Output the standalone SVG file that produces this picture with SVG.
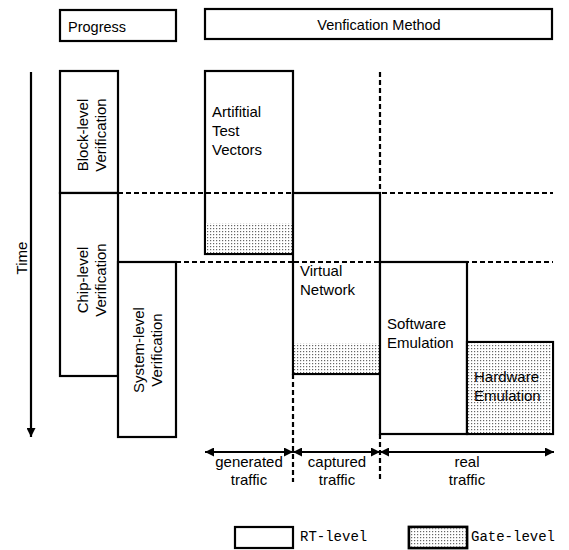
<svg xmlns="http://www.w3.org/2000/svg" width="569" height="550" viewBox="0 0 569 550">
<defs>
<pattern id="dots" width="3" height="3" patternUnits="userSpaceOnUse">
<rect width="3" height="3" fill="#ffffff"/>
<rect x="0" y="0" width="1.2" height="1.2" fill="#666666"/>
</pattern>
<marker id="ah" viewBox="0 0 10 10" refX="10" refY="5" markerWidth="10" markerHeight="9" markerUnits="userSpaceOnUse" orient="auto-start-reverse">
<path d="M0,0 L10,5 L0,10 Z" fill="#000"/>
</marker>
</defs>
<style>
.box{fill:#fff;stroke:#000;stroke-width:2.2}
.shade{fill:url(#dots);stroke:none}
.dash{fill:none;stroke:#000;stroke-width:2.2;stroke-dasharray:5 3}
.line{fill:none;stroke:#000;stroke-width:2.2}
.t{font-family:"Liberation Sans",Arial,sans-serif;font-size:15px;fill:#000}
.h{font-family:"Liberation Sans",Arial,sans-serif;font-size:14.5px;fill:#000}
.m{font-family:"Liberation Mono","Courier New",monospace;font-size:14px;fill:#000}
</style>
<g id="connectors">
<line class="dash" x1="118" y1="193" x2="553" y2="193"/>
<line class="dash" x1="176" y1="262" x2="553" y2="262"/>
<line class="dash" x1="380" y1="72" x2="380" y2="193"/>
<line class="dash" x1="293" y1="374" x2="293" y2="482"/>
<line class="dash" x1="380" y1="434" x2="380" y2="482"/>
<line class="line" x1="31" y1="72" x2="31" y2="437" marker-end="url(#ah)"/>
<line class="line" x1="205" y1="452" x2="293" y2="452" marker-start="url(#ah)" marker-end="url(#ah)"/>
<line class="line" x1="293" y1="452" x2="380" y2="452" marker-start="url(#ah)" marker-end="url(#ah)"/>
<line class="line" x1="380" y1="452" x2="554" y2="452" marker-start="url(#ah)" marker-end="url(#ah)"/>
</g>
<g id="header-progress">
<rect class="box" x="60" y="10" width="116" height="31"/>
<text class="h" x="68" y="32">Progress</text>
</g>
<g id="header-method">
<rect class="box" x="205" y="9" width="347" height="30"/>
<text class="h" x="379" y="30" text-anchor="middle">Venfication Method</text>
</g>
<g id="time-label">
<text class="t" transform="translate(27,258) rotate(-90)" text-anchor="middle">Time</text>
</g>
<g id="block-level">
<rect class="box" x="60" y="71" width="58" height="122"/>
<text class="t" transform="translate(88,135) rotate(-90)" text-anchor="middle"><tspan x="0" y="0">Block-level</tspan><tspan x="0" y="18">Verification</tspan></text>
</g>
<g id="chip-level">
<rect class="box" x="60" y="193" width="58" height="183"/>
<text class="t" transform="translate(88,280) rotate(-90)" text-anchor="middle"><tspan x="0" y="0">Chip-level</tspan><tspan x="0" y="18">Verification</tspan></text>
</g>
<g id="system-level">
<rect class="box" x="118" y="262" width="58" height="175"/>
<text class="t" transform="translate(144,350) rotate(-90)" text-anchor="middle"><tspan x="0" y="0">System-level</tspan><tspan x="0" y="18">Verification</tspan></text>
</g>
<g id="artificial">
<rect class="box" x="205" y="71" width="88" height="183"/>
<rect class="shade" x="206" y="223" width="86" height="30"/>
<line class="dash" x1="206" y1="193" x2="292" y2="193"/>
<text class="t"><tspan x="212" y="117">Artifitial</tspan><tspan x="212" y="136">Test</tspan><tspan x="212" y="155">Vectors</tspan></text>
</g>
<g id="virtual-network">
<rect class="box" x="293" y="193" width="87" height="181"/>
<rect class="shade" x="294" y="343" width="85" height="30"/>
<line class="dash" x1="294" y1="262" x2="379" y2="262"/>
<text class="t"><tspan x="300" y="276">Virtual</tspan><tspan x="300" y="295">Network</tspan></text>
</g>
<g id="software-emulation">
<rect class="box" x="380" y="262" width="87" height="172"/>
<text class="t"><tspan x="387" y="329">Software</tspan><tspan x="387" y="348">Emulation</tspan></text>
</g>
<g id="hardware-emulation">
<rect class="box" x="467" y="342" width="86" height="92"/>
<rect class="shade" x="468" y="343" width="84" height="90"/>
<text class="t"><tspan x="474" y="382">Hardware</tspan><tspan x="474" y="401">Emulation</tspan></text>
</g>
<g id="labels">
<text class="t" text-anchor="middle"><tspan x="249" y="467">generated</tspan><tspan x="249" y="485">traffic</tspan></text>
<text class="t" text-anchor="middle"><tspan x="337" y="467">captured</tspan><tspan x="337" y="485">traffic</tspan></text>
<text class="t" text-anchor="middle"><tspan x="467" y="467">real</tspan><tspan x="467" y="485">traffic</tspan></text>
</g>
<g id="legend-rt">
<rect class="box" x="235" y="527" width="58" height="21"/>
<text class="m" x="300" y="541">RT-level</text>
</g>
<g id="legend-gate">
<rect class="box" x="409" y="527" width="58" height="21" style="stroke-width:2.8"/>
<rect class="shade" x="410.5" y="528.5" width="55" height="18"/>
<text class="m" x="471" y="541">Gate-level</text>
</g>
</svg>
